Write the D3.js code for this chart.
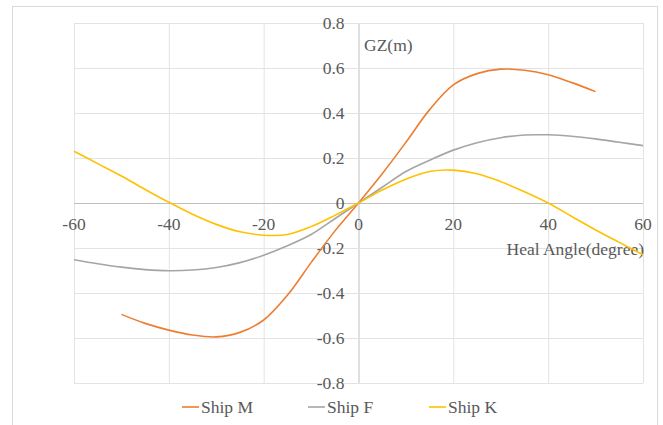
<!DOCTYPE html>
<html>
<head>
<meta charset="utf-8">
<script src="https://cdn.jsdelivr.net/npm/d3@7"></script>
<style>
  body { margin: 0; background: #fff; }
  text { font-family: "Liberation Serif", "Times New Roman", serif; fill: #595959; font-size: 17.5px; }
</style>
</head>
<body>
<svg id="chart" width="663" height="425"></svg>
<script>
// ---------- data ----------
var angles = [-60, -55, -50, -45, -40, -35, -30, -25, -20, -15, -10, -5, 0, 5, 10, 15, 20, 25, 30, 35, 40, 45, 50, 55, 60]
var anglesM = [-50, -45, -40, -35, -30, -25, -20, -15, -10, -5, 0, 5, 10, 15, 20, 25, 30, 35, 40, 45, 50]
var gzM = [-0.495, -0.535, -0.565, -0.587, -0.595, -0.575, -0.52, -0.41, -0.265, -0.125, 0, 0.13, 0.27, 0.415, 0.525, 0.575, 0.595, 0.59, 0.57, 0.535, 0.495]
var gzF = [-0.252, -0.27, -0.285, -0.296, -0.301, -0.298, -0.287, -0.265, -0.232, -0.19, -0.14, -0.07, 0, 0.07, 0.14, 0.19, 0.235, 0.268, 0.29, 0.302, 0.303, 0.297, 0.285, 0.27, 0.255]
var gzK = [0.23, 0.175, 0.12, 0.06, 0.003, -0.05, -0.095, -0.128, -0.143, -0.14, -0.105, -0.055, 0, 0.058, 0.106, 0.14, 0.146, 0.13, 0.095, 0.05, 0.0, -0.06, -0.12, -0.175, -0.23]
var xTicks = [-60, -40, -20, 0, 20, 40, 60]
var yTicks = [-0.8, -0.6, -0.4, -0.2, 0, 0.2, 0.4, 0.6, 0.8]
var seriesNames = ["Ship M", "Ship F", "Ship K"]
var colors = ["#ED7D31", "#A5A5A5", "#FFC000"]

// ---------- setup ----------
var svg = d3.select("#chart")
svg.append("rect")
  .attr("x", 12.5).attr("y", 6.5).attr("width", 645).attr("height", 430)
  .attr("fill", "none").attr("stroke", "#d9d9d9")

var x = d3.scaleLinear().domain([-60, 60]).range([74, 643])
var y = d3.scaleLinear().domain([-0.8, 0.8]).range([383, 23])

// gridlines
svg.append("g").selectAll("line").data(xTicks).join("line")
  .attr("x1", d => x(d) + 0.5).attr("x2", d => x(d) + 0.5)
  .attr("y1", y(0.8)).attr("y2", y(-0.8))
  .attr("stroke", d => d === 0 ? "#bfbfbf" : "#e3e3e3")
svg.append("g").selectAll("line").data(yTicks).join("line")
  .attr("x1", x(-60)).attr("x2", x(60))
  .attr("y1", d => y(d) + 0.5).attr("y2", d => y(d) + 0.5)
  .attr("stroke", d => d === 0 ? "#bfbfbf" : "#e3e3e3")

// tick labels (plain hyphen for negatives, like the original)
svg.append("g").selectAll("text").data(yTicks).join("text")
  .attr("x", x(0) - 14).attr("y", d => y(d))
  .attr("dy", "0.35em").attr("text-anchor", "end")
  .text(d => String(Math.round(d * 10) / 10))
svg.append("g").selectAll("text").data(xTicks).join("text")
  .attr("x", d => x(d)).attr("y", y(0) + 21)
  .attr("dy", "0.35em").attr("text-anchor", "middle")
  .text(d => String(d))

// axis titles
svg.append("text").attr("x", 364).attr("y", 45).attr("dy", "0.35em").text("GZ(m)")
svg.append("text").attr("x", 644).attr("y", 249).attr("dy", "0.35em")
  .attr("text-anchor", "end").text("Heal Angle(degree)")

// ---------- lines ----------
var line = d3.line()
  .x(d => x(d[0])).y(d => y(d[1]))
  .curve(d3.curveCatmullRom.alpha(0.5))

var series = [
  d3.zip(anglesM, gzM),
  d3.zip(angles, gzF),
  d3.zip(angles, gzK)
]

svg.append("g").selectAll("path").data(series).join("path")
  .attr("d", line)
  .attr("fill", "none")
  .attr("stroke", (d, i) => colors[i])
  .attr("stroke-width", 1.6)

// ---------- legend ----------
var legendX = [182, 308, 429]
var legend = svg.append("g").selectAll("g").data(seriesNames).join("g")
  .attr("transform", (d, i) => "translate(" + legendX[i] + ",407)")
legend.append("line")
  .attr("x1", 0).attr("x2", 17).attr("y1", 0).attr("y2", 0)
  .attr("stroke", (d, i) => colors[i]).attr("stroke-width", 1.6)
legend.append("text")
  .attr("x", 19).attr("dy", "0.35em")
  .text(d => d)
</script>
</body>
</html>
